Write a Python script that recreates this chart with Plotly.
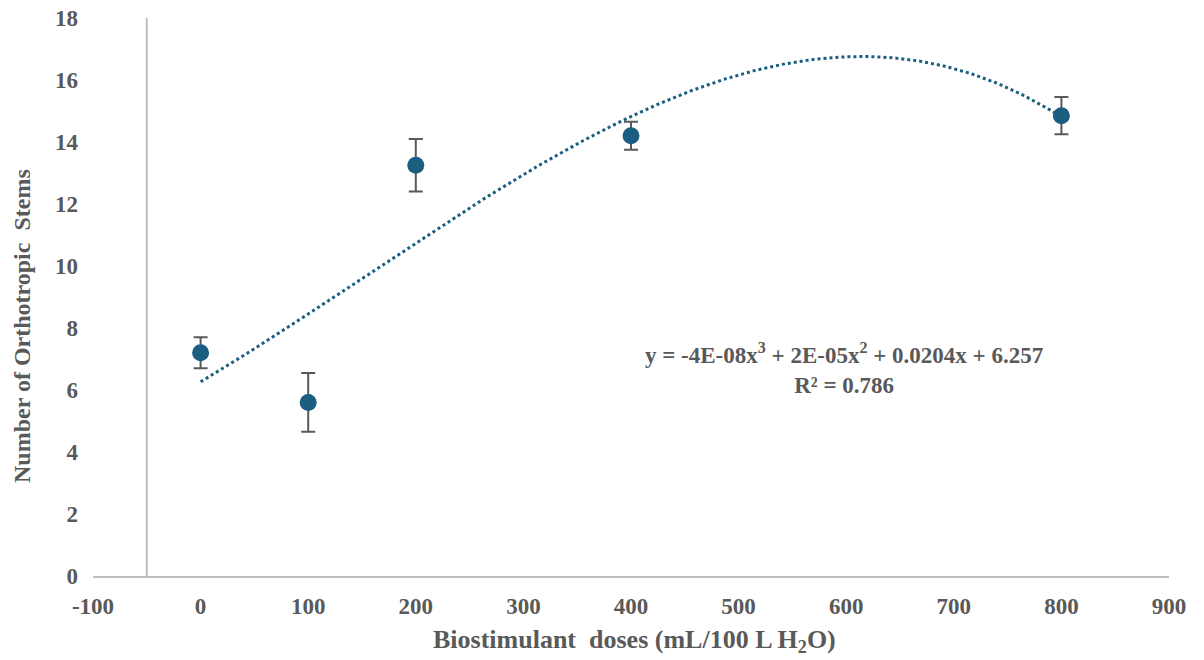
import numpy as np
import plotly.graph_objects as go

doses = [0, 100, 200, 400, 800]
stems = [7.2, 5.6, 13.25, 14.2, 14.85]
errors = [0.5, 0.95, 0.85, 0.45, 0.6]
x_ticks = list(range(-100, 1000, 100))
x_tick_text = [str(v) for v in x_ticks]
y_ticks = list(range(0, 20, 2))

blue = "#1a5e82"
grey_text = "#595959"
font_family = "Liberation Serif, Times New Roman, serif"

W, H = 1204, 660
OFF = 8  # page body margin
ML, MR, MT, MB = 93 - OFF, 35 + OFF, 18 - OFF, 84 + OFF
PW = W - ML - MR
PH = H - MT - MB

coef = np.polyfit(doses, stems, 3)
xs = np.linspace(min(doses), max(doses), 300)
ys = np.polyval(coef, xs)

fig = go.Figure()
fig.add_trace(go.Scatter(x=xs, y=ys, mode="lines",
                         line=dict(color=blue, width=3, dash="dot"),
                         hoverinfo="skip", showlegend=False))
fig.add_trace(go.Scatter(x=doses, y=stems, mode="markers",
                         marker=dict(color=blue, size=17),
                         error_y=dict(type="data", array=errors, visible=True,
                                      color="#595959", thickness=2, width=7),
                         showlegend=False))

fig.add_shape(type="line", x0=-50, x1=-50, y0=0, y1=18, xref="x", yref="y",
              line=dict(color="#bfbfbf", width=2), layer="below")

def px_x(page_x):
    return (page_x - OFF - ML) / PW

def px_y(page_y):
    return (H - MB - (page_y - OFF)) / PH

fig.add_annotation(x=px_x(844), y=px_y(368), xref="paper", yref="paper",
                   text="<b>y = -4E-08x<sup>3</sup> + 2E-05x<sup>2</sup> + 0.0204x + 6.257<br>R² = 0.786</b>",
                   showarrow=False, align="center", xanchor="center", yanchor="middle",
                   font=dict(family=font_family, size=23, color=grey_text))

fig.add_annotation(x=px_x(22), y=px_y(326), xref="paper", yref="paper",
                   text="<b>Number of Orthotropic  Stems</b>", textangle=-90,
                   showarrow=False, xanchor="center", yanchor="middle",
                   font=dict(family=font_family, size=24, color=grey_text))
fig.add_annotation(x=px_x(634), y=px_y(641), xref="paper", yref="paper",
                   text="<b>Biostimulant  doses (mL/100 L H<sub>2</sub>O)</b>",
                   showarrow=False, xanchor="center", yanchor="middle",
                   font=dict(family=font_family, size=26, color=grey_text))

fig.update_layout(
    width=W, height=H,
    margin=dict(l=ML, r=MR, t=MT, b=MB),
    paper_bgcolor="white", plot_bgcolor="white",
    font=dict(family=font_family, color=grey_text),
    xaxis=dict(range=[-100, 900], tickvals=x_ticks, ticktext=x_tick_text,
               showgrid=False, zeroline=False, automargin=False,
               showline=True, linecolor="#bfbfbf", linewidth=2,
               ticklabelstandoff=8, ticklabeloverflow="allow",
               tickfont=dict(family=font_family, size=23, color=grey_text, weight="bold")),
    yaxis=dict(range=[0, 18], tickvals=y_ticks, showgrid=False, zeroline=False,
               showline=False, automargin=False, ticklabeloverflow="allow",
               tickfont=dict(family=font_family, size=23, color=grey_text, weight="bold"),
               ticklabelstandoff=14),
)

fig.write_html("out.html")
